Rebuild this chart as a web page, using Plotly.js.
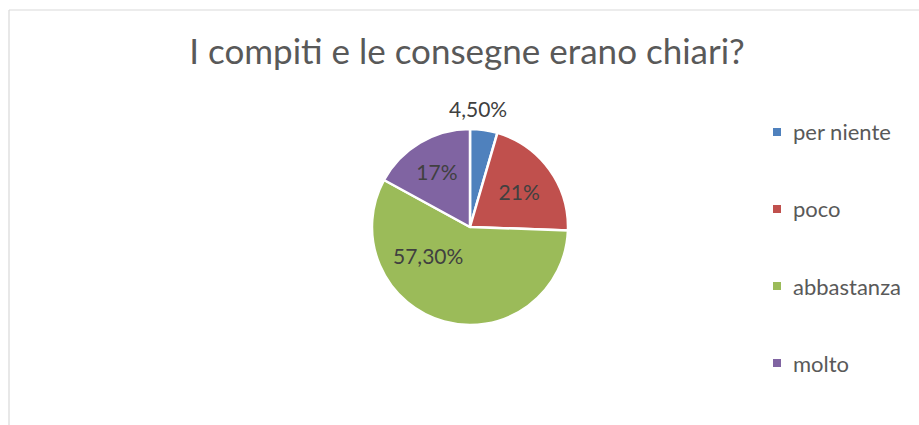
<!DOCTYPE html>
<html><head><meta charset="utf-8">
<script src="https://cdn.plot.ly/plotly-3.0.1.min.js"></script>
<style>html,body{margin:0;padding:0;background:#fff}#chart{width:919px;height:425px}</style>
</head><body><div id="chart"></div>
<script>
const categories = ['per niente', 'poco', 'abbastanza', 'molto'];
const values = [4.5, 21, 57.3, 17];
const valueLabels = ['4,50%', '21%', '57,30%', '17%'];
const colors = ['#4F81BD', '#C0504D', '#9BBB59', '#8064A2'];
const titleText = 'I compiti e le consegne erano chiari?';

const W = 919, H = 425;
const px = x => x / W;
const py = y => 1 - y / H;

// label placement: slices 0 and 2 are placed as annotations (as in the original), others inside
const labelInPie = [false, true, false, true];
const labelPos = [[478, 108], null, [428, 255], null];

const pie = {
  type: 'pie',
  labels: categories,
  values: values,
  text: valueLabels.map((t, i) => labelInPie[i] ? t : ''),
  textinfo: 'text',
  hoverinfo: 'label+text',
  sort: false,
  direction: 'clockwise',
  rotation: 0,
  textposition: 'inside',
  insidetextorientation: 'horizontal',
  textfont: {family: 'Lato, sans-serif', size: 21, color: '#404040'},
  marker: {colors: colors, line: {color: '#ffffff', width: 2.5}},
  domain: {x: [px(372), px(568)], y: [py(325), py(129)]},
  showlegend: false
};

const shapes = [
  {type: 'line', xref: 'paper', yref: 'paper', x0: px(9), x1: 1, y0: py(10), y1: py(10), line: {color: '#D9D9D9', width: 1.2}},
  {type: 'line', xref: 'paper', yref: 'paper', x0: px(9), x1: px(9), y0: py(10), y1: 0, line: {color: '#D9D9D9', width: 1.2}}
];
const annotations = [];
valueLabels.forEach((t, i) => {
  if (!labelInPie[i]) {
    annotations.push({xref: 'paper', yref: 'paper', x: px(labelPos[i][0]), y: py(labelPos[i][1]), xanchor: 'center', yanchor: 'middle', text: t, showarrow: false, font: {family: 'Lato, sans-serif', size: 21, color: '#404040'}});
  }
});
const legendY = [132, 209, 286, 363];
categories.forEach((c, i) => {
  shapes.push({type: 'rect', xref: 'paper', yref: 'paper', x0: px(773), x1: px(781), y0: py(legendY[i] + 4), y1: py(legendY[i] - 4), fillcolor: colors[i], line: {width: 0}});
  annotations.push({xref: 'paper', yref: 'paper', x: px(791), y: py(legendY[i]), xanchor: 'left', yanchor: 'middle', text: c, showarrow: false, font: {family: 'Lato, sans-serif', size: 22, color: '#595959'}});
});

const layout = {
  width: W, height: H,
  margin: {l: 0, r: 0, t: 0, b: 0},
  paper_bgcolor: '#ffffff',
  title: {text: titleText, x: 467 / W, xanchor: 'center', y: py(52), yanchor: 'middle', font: {family: 'Lato, sans-serif', size: 35, color: '#595959'}},
  shapes: shapes,
  annotations: annotations,
  showlegend: false
};
Plotly.newPlot('chart', [pie], layout, {displayModeBar: false, staticPlot: true});
</script></body></html>
